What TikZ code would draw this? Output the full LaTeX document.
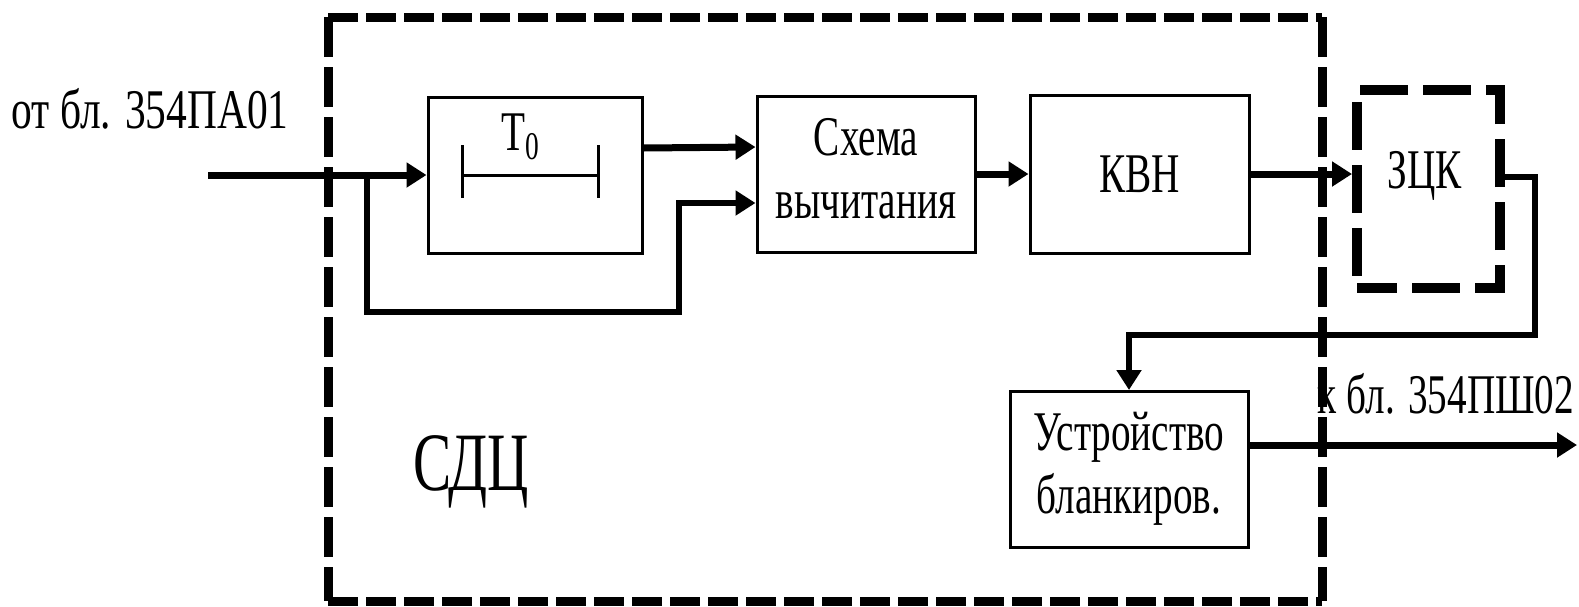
\documentclass[tikz,border=0pt]{standalone}
\usepackage{fontspec}
\setmainfont{Liberation Serif}
\usetikzlibrary{arrows.meta}
\newcommand{\nr}[1]{\scalebox{0.7}[1]{#1}}
\begin{document}
\begin{tikzpicture}[x=0.5pt,y=-0.5pt,
  blk/.style={draw,line width=1.5pt,minimum width=#1,minimum height=78pt,inner sep=0pt,
    font=\fontsize{28}{31.5}\selectfont},
  zckbox/.style={draw,line width=5pt,dash pattern=on 24pt off 7.5pt,dash phase=4pt,
    minimum width=71.5pt,minimum height=99pt,inner sep=0pt},
  txt/.style={inner sep=0pt,font=\fontsize{28}{31.5}\selectfont},
  conn/.style={line width=3.5pt,-{Triangle[length=10pt,width=12pt]}},
  connb/.style={line width=3pt,-{Triangle[length=10pt,width=12pt]}},
  dashh/.style={line width=4.5pt,dash pattern=on 15pt off 4pt},
  dashv/.style={line width=4.5pt,dash pattern=on 20pt off 5pt},
  tick/.style={line width=1.5pt}]
\useasboundingbox (0,0) rectangle (1579,606);
\fill[white] (0,0) rectangle (1579,606);

% outer SDC frame
\draw[dashh] (328,17) -- (1322,17) (328,601) -- (1322,601);
\draw[dashv] (328,17) -- (328,601) (1322,17) -- (1322,601);

% blocks
\node[blk=107pt] (t0) at (535,175) {};
\node[txt] (t0lab) at (521,137) {\nr{T\textsubscript{0}}};
\draw[tick] (462,145) -- (462,198) (462,175) -- (598,175) (598,145) -- (598,198);

\node[blk=109pt] (sub) at (866,174) {\nr{\begin{tabular}{@{}c@{}}Схема\\вычитания\end{tabular}}};
\node[blk=109.5pt,minimum height=79pt] (kvn) at (1139.5,174) {\nr{КВН}};
\node[zckbox] (zck) at (1428.5,189) {};
\node[txt] (zcklab) at (1425,176) {\nr{ЗЦК}};
\node[blk=119pt] (ust) at (1129,469.5) {\nr{\begin{tabular}{@{}c@{}}Устройство\\бланкиров.\end{tabular}}};

% labels
\node[txt] (lin) at (150,109) {\scalebox{0.74}[1]{от бл. 354ПА01}};
\node[txt] (lout) at (1446,394) {\nr{к бл. 354ПШ02}};
\node[inner sep=0pt,font=\fontsize{41.5}{45}\selectfont] (sdc) at (471,472) {\scalebox{0.69}[1]{СДЦ}};

% connectors
\coordinate (in) at (208,175);
\coordinate (br) at (367,175);
\coordinate (bt) at (679,312);
\coordinate (fb) at (1535,335);
\coordinate (out) at (1577,445);

\draw[conn] (in) -- (t0.west);
\draw[connb] (br) |- (bt) |- ([yshift=-14.5pt]sub.west);
\draw[conn] ([yshift=13.5pt]t0.east) -- ([yshift=13.5pt]sub.west);
\draw[conn] (sub.east) -- (kvn.west);
\draw[conn] (kvn.east) -- (zck.west |- kvn.east);
\draw[connb] ([yshift=6pt]zck.east) -| (fb) -| (ust.north);
\draw[conn] ([yshift=12.25pt]ust.east) -- (out);
\end{tikzpicture}
\end{document}
